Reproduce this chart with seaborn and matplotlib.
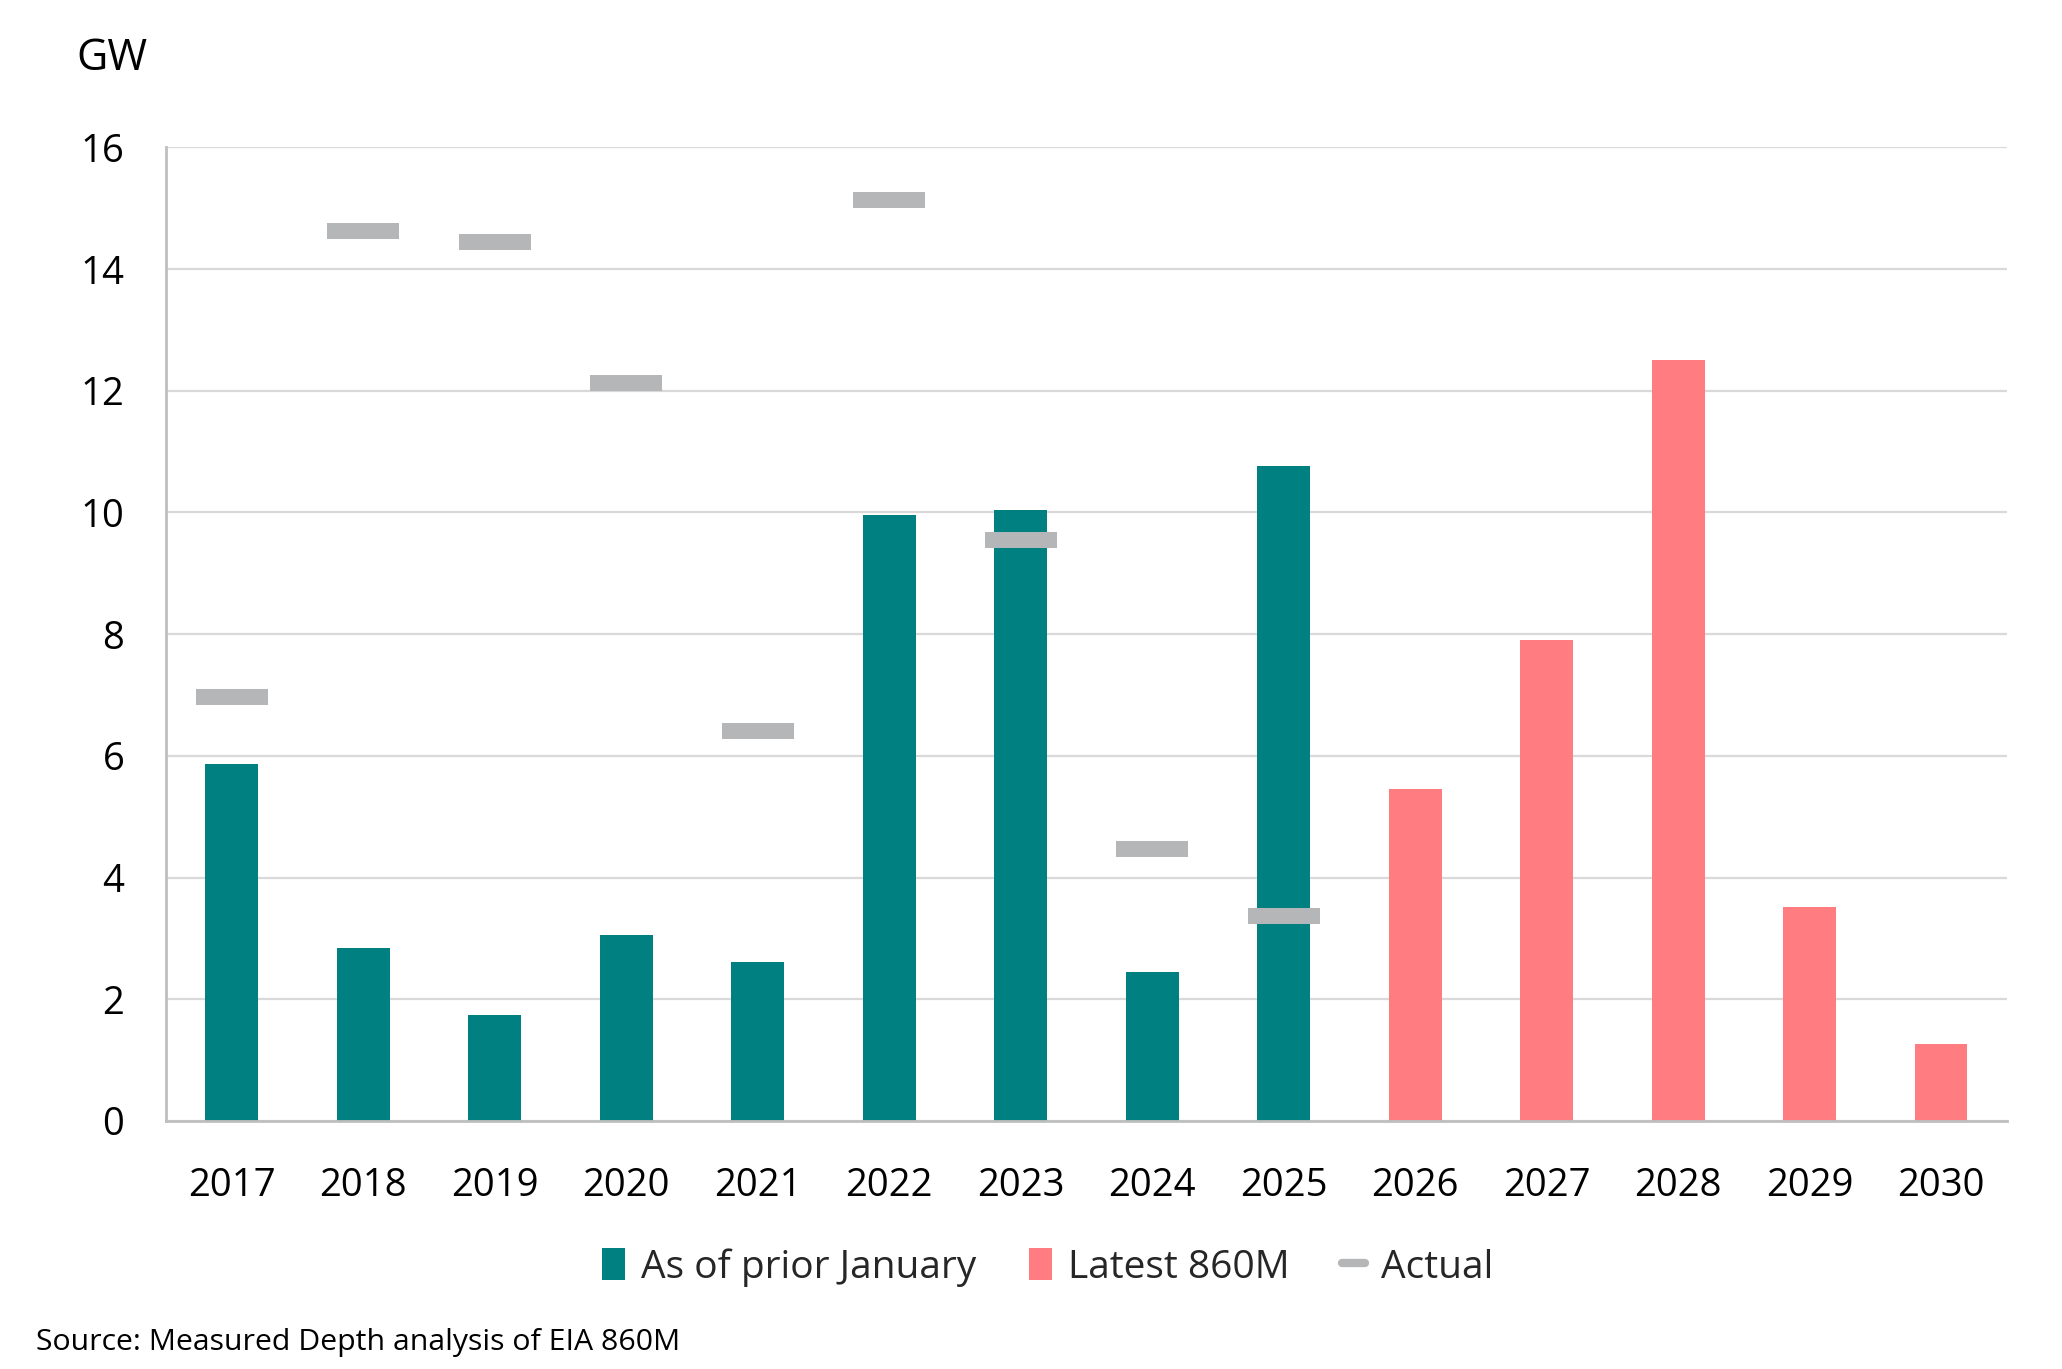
import numpy as np
import pandas as pd
import matplotlib
matplotlib.use("Agg")
import matplotlib.pyplot as plt
from matplotlib.patches import Patch
from matplotlib.lines import Line2D
import seaborn as sns

# ---- data ----
years = ["2017", "2018", "2019", "2020", "2021", "2022", "2023",
         "2024", "2025", "2026", "2027", "2028", "2029", "2030"]
planned_prior_jan = [5.87, 2.85, 1.74, 3.06, 2.61, 9.95, 10.04, 2.45, 10.77]
latest_860m = [5.46, 7.91, 12.5, 3.51, 1.27]
actual = [6.96, 14.62, 14.45, 12.13, 6.41, 15.13, 9.54, 4.47, 3.37]
series_labels = ["As of prior January", "Latest 860M", "Actual"]
y_ticks = [0, 2, 4, 6, 8, 10, 12, 14, 16]

teal = "#008080"
pink = "#FF7C80"
grey = "#B5B6B8"

sns.set_theme(style="white")
plt.rcParams["font.family"] = ["Open Sans", "DejaVu Sans"]

n_prior = len(planned_prior_jan)
bars = pd.DataFrame({
    "year": years,
    "value": planned_prior_jan + latest_860m,
    "type": [series_labels[0]] * n_prior + [series_labels[1]] * len(latest_860m),
})
act = pd.DataFrame({"year": years[:len(actual)], "actual": actual})

fig = plt.figure(figsize=(20.62, 13.69), dpi=100)
ax = fig.add_axes([0.0805, 0.1812, 0.8928, 0.7112])

sns.barplot(data=bars, x="year", y="value", hue="type", order=years,
            palette={series_labels[0]: teal, series_labels[1]: pink},
            dodge=False, width=0.4, ax=ax, legend=False, linewidth=0,
            saturation=1)

rect = [(-2.5, -0.55), (2.5, -0.55), (2.5, 0.55), (-2.5, 0.55), (-2.5, -0.55)]
sns.pointplot(data=act, x="year", y="actual", order=years, ax=ax,
              color=grey, linestyle="none", marker=rect, markersize=52,
              markeredgewidth=0, errorbar=None, zorder=5)

ax.set_xlim(-0.5, len(years) - 0.5)
ax.set_ylim(0, 16)
ax.set_yticks(y_ticks)
ax.set_xlabel("")
ax.set_ylabel("")
ax.yaxis.grid(True, color="#D9D9D9", linewidth=1.6)
ax.xaxis.grid(False)
ax.set_axisbelow(True)
for s in ["top", "right"]:
    ax.spines[s].set_visible(False)
for s in ["left", "bottom"]:
    ax.spines[s].set_color("#BFBFBF")
    ax.spines[s].set_linewidth(2)
ax.spines["bottom"].set_zorder(6)
ax.tick_params(axis="both", length=0, labelsize=27.5, colors="black")
ax.tick_params(axis="y", pad=30)
ax.tick_params(axis="x", pad=33)

fig.text(0.0545, 0.957, "GW", fontsize=31, ha="center", va="center", color="black")

handles = [
    Patch(facecolor=teal, edgecolor="none"),
    Patch(facecolor=pink, edgecolor="none"),
    Line2D([0], [0], color=grey, linewidth=6, solid_capstyle="round"),
]
fig.legend(handles, series_labels, loc="center", bbox_to_anchor=(0.508, 0.0743),
           ncol=3, frameon=False, fontsize=28, handlelength=0.6, handleheight=0.9,
           handletextpad=0.4, columnspacing=1.35)

fig.text(0.0175, 0.009, "Source: Measured Depth analysis of EIA 860M", fontsize=21.8,
         ha="left", va="bottom", color="black")

fig.savefig("out.png", dpi=100, facecolor="white")
